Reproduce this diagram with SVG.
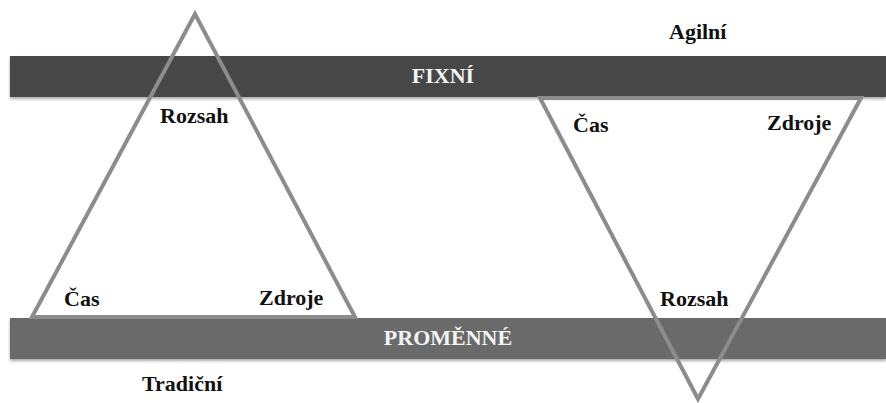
<svg xmlns="http://www.w3.org/2000/svg" width="886" height="403" viewBox="0 0 886 403">
<defs>
<filter id="sh" x="-5%" y="-20%" width="110%" height="160%">
<feGaussianBlur in="SourceAlpha" stdDeviation="1.5"/>
<feOffset dy="2" result="b"/>
<feComponentTransfer><feFuncA type="linear" slope="0.35"/></feComponentTransfer>
<feMerge><feMergeNode/><feMergeNode in="SourceGraphic"/></feMerge>
</filter>
</defs>
<style>
text{font-family:'Liberation Serif','DejaVu Serif',serif;font-weight:bold;font-size:22px}
.lbl{fill:#111}
.bar{fill:#f4f4f4;text-anchor:middle}
.tri{fill:none;stroke:#8c8c8c;stroke-width:4;stroke-linejoin:miter}
</style>
<rect width="886" height="403" fill="#ffffff"/>
<g id="fixni">
<rect x="10" y="56" width="876" height="41" fill="#464646" filter="url(#sh)"/>
<text class="bar" x="443" y="83">FIXNÍ</text>
</g>
<g id="promenne">
<rect x="10" y="318" width="876" height="41" fill="#6a6a6a" filter="url(#sh)"/>
<text class="bar" x="448" y="345">PROMĚNNÉ</text>
</g>
<g id="tradicni">
<polygon class="tri" points="195,14 32,317 355,317"/>
<text class="lbl" x="160" y="123">Rozsah</text>
<text class="lbl" x="64" y="306">Čas</text>
<text class="lbl" x="259" y="305">Zdroje</text>
<text class="lbl" x="142" y="391">Tradiční</text>
</g>
<g id="agilni">
<polygon class="tri" points="540,98 861,98 698,399"/>
<text class="lbl" x="573" y="132">Čas</text>
<text class="lbl" x="767" y="130">Zdroje</text>
<text class="lbl" x="660" y="306">Rozsah</text>
<text class="lbl" x="669" y="39">Agilní</text>
</g>
<g id="connectors"></g>
</svg>
